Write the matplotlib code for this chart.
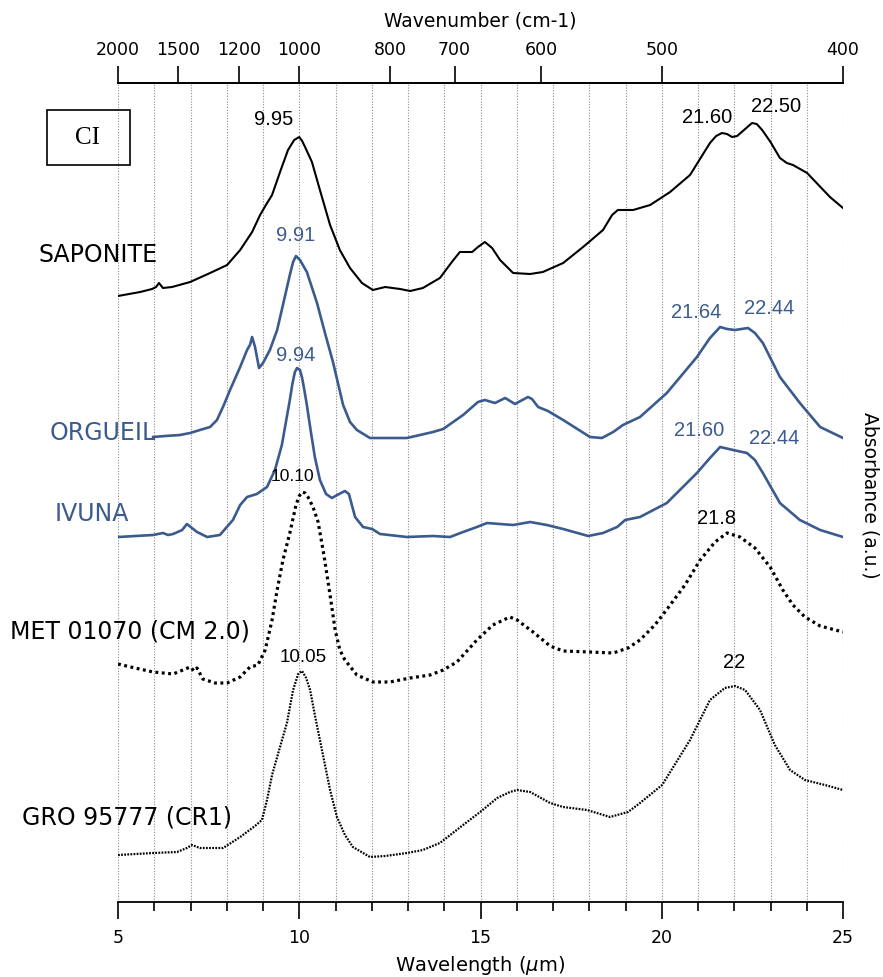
import matplotlib.pyplot as plt
from matplotlib.patches import Rectangle
from matplotlib.ticker import MultipleLocator, FixedLocator, NullFormatter

# spectra: wavelength (um) vs absorbance (a.u., stacked)
sap_x = [5.00, 5.61, 5.94, 6.05, 6.13, 6.24, 6.49, 6.99, 7.54, 8.01, 8.37, 8.70, 8.92, 9.08,
         9.25, 9.47, 9.69, 9.86, 10.00, 10.08, 10.16, 10.35, 10.57, 10.85, 11.12, 11.40, 11.73,
         12.03, 12.37, 12.78, 13.06, 13.41, 13.88, 14.21, 14.43, 14.77, 14.93, 15.12, 15.32,
         15.54, 15.90, 16.37, 16.72, 17.28, 17.83, 18.38, 18.63, 18.79, 19.21, 19.68, 20.23,
         20.78, 21.33, 21.50, 21.66, 21.80, 21.94, 22.08, 22.30, 22.49, 22.62, 22.77, 23.00,
         23.26, 23.45, 23.62, 24.01, 24.64, 25.00]
sap_y = [6.06, 6.10, 6.13, 6.15, 6.19, 6.14, 6.15, 6.20, 6.29, 6.37, 6.52, 6.70, 6.87, 6.97,
         7.07, 7.30, 7.52, 7.62, 7.65, 7.61, 7.55, 7.40, 7.12, 6.77, 6.52, 6.34, 6.19,
         6.12, 6.15, 6.13, 6.11, 6.14, 6.24, 6.40, 6.50, 6.50, 6.55, 6.60, 6.54,
         6.42, 6.29, 6.28, 6.30, 6.39, 6.55, 6.72, 6.87, 6.92, 6.92, 6.97, 7.10,
         7.27, 7.59, 7.66, 7.69, 7.68, 7.65, 7.66, 7.73, 7.79, 7.78, 7.72, 7.60,
         7.44, 7.39, 7.37, 7.29, 7.05, 6.94]

org_x = [5.97, 6.30, 6.71, 6.99, 7.26, 7.54, 7.73, 7.92, 8.09, 8.37, 8.56, 8.64, 8.70, 8.78,
         8.89, 9.00, 9.19, 9.39, 9.55, 9.74, 9.83, 9.91, 10.02, 10.21, 10.49, 10.71, 10.93, 11.21,
         11.40, 11.59, 11.95, 12.97, 13.69, 13.97, 14.52, 14.93, 15.12, 15.40, 15.68, 15.95, 16.31,
         16.42, 16.59, 16.86, 17.28, 18.02, 18.35, 18.66, 18.93, 19.40, 20.14, 20.97, 21.33,
         21.61, 21.80, 22.02, 22.38, 22.57, 22.79, 23.26, 23.81, 24.37, 25.00]
org_y = [4.65, 4.66, 4.67, 4.69, 4.72, 4.75, 4.82, 4.97, 5.12, 5.35, 5.52, 5.57, 5.65, 5.55,
         5.34, 5.39, 5.52, 5.72, 5.97, 6.27, 6.40, 6.46, 6.42, 6.30, 5.99, 5.69, 5.40, 4.97,
         4.80, 4.72, 4.64, 4.64, 4.70, 4.73, 4.87, 5.00, 5.02, 4.99, 5.04, 4.98, 5.05,
         5.03, 4.95, 4.91, 4.82, 4.65, 4.64, 4.70, 4.77, 4.85, 5.09, 5.45, 5.64,
         5.75, 5.73, 5.72, 5.74, 5.69, 5.59, 5.25, 4.99, 4.75, 4.64]

ivu_x = [5.00, 5.97, 6.24, 6.38, 6.52, 6.77, 6.90, 7.04, 7.18, 7.46, 7.81, 8.17, 8.37, 8.56,
         8.83, 9.11, 9.33, 9.52, 9.74, 9.81, 9.88, 9.94, 10.02, 10.08, 10.14, 10.21, 10.30, 10.43,
         10.57, 10.74, 10.90, 11.10, 11.26, 11.37, 11.54, 11.76, 12.01, 12.23, 12.97, 13.69,
         14.16, 14.52, 14.90, 15.18, 15.90, 16.37, 16.83, 17.28, 17.97, 18.38, 18.77, 18.99,
         19.40, 20.14, 20.97, 21.33, 21.61, 21.97, 22.35, 22.57, 22.79, 23.26, 23.81, 24.37, 25.00]
ivu_y = [3.65, 3.67, 3.69, 3.67, 3.68, 3.72, 3.78, 3.74, 3.70, 3.65, 3.67, 3.82, 3.97, 4.05,
         4.08, 4.15, 4.32, 4.57, 5.02, 5.18, 5.30, 5.34, 5.32, 5.24, 5.12, 4.97, 4.75, 4.45,
         4.22, 4.08, 4.04, 4.08, 4.11, 4.08, 3.85, 3.75, 3.73, 3.68, 3.65, 3.66,
         3.65, 3.70, 3.75, 3.79, 3.77, 3.80, 3.77, 3.73, 3.66, 3.69, 3.75, 3.82,
         3.85, 3.99, 4.29, 4.44, 4.55, 4.52, 4.49, 4.42, 4.29, 3.99, 3.82, 3.72, 3.65]

met_x = [5.00, 5.47, 5.97, 6.52, 6.79, 6.99, 7.10, 7.18, 7.34, 7.68, 8.01, 8.37, 8.64, 8.86,
         9.06, 9.25, 9.39, 9.55, 9.74, 9.91, 10.00, 10.08, 10.16, 10.24, 10.38, 10.52, 10.68,
         10.85, 10.99, 11.12, 11.26, 11.59, 12.03, 12.50, 13.06, 13.61, 13.97, 14.35, 14.90,
         15.34, 15.81, 16.01, 16.45, 16.92, 17.28, 18.02, 18.66, 19.07, 19.40, 19.81, 20.17,
         20.64, 21.06, 21.47, 21.80, 22.16, 22.57, 22.99, 23.34, 23.62, 23.95, 24.37, 25.00]
met_y = [2.38, 2.34, 2.30, 2.28, 2.32, 2.35, 2.31, 2.34, 2.23, 2.19, 2.19, 2.25, 2.35, 2.37,
         2.52, 2.82, 3.12, 3.42, 3.69, 3.97, 4.06, 4.10, 4.09, 4.05, 3.95, 3.80, 3.47,
         3.07, 2.72, 2.52, 2.42, 2.27, 2.20, 2.20, 2.24, 2.27, 2.32, 2.40, 2.62,
         2.77, 2.85, 2.82, 2.70, 2.56, 2.51, 2.50, 2.49, 2.54, 2.62, 2.77, 2.94,
         3.17, 3.42, 3.60, 3.69, 3.65, 3.54, 3.35, 3.12, 2.97, 2.85, 2.76, 2.70]

gro_x = [5.00, 5.97, 6.63, 6.90, 7.04, 7.26, 7.90, 8.37, 8.78, 8.97, 9.11, 9.25, 9.39, 9.66,
         9.83, 9.97, 10.08, 10.19, 10.30, 10.43, 10.57, 10.85, 11.04, 11.26, 11.48, 11.95,
         12.37, 12.97, 13.41, 13.88, 14.52, 14.99, 15.46, 15.81, 16.01, 16.37, 16.92, 17.28,
         17.94, 18.57, 19.07, 19.40, 20.01, 20.78, 21.33, 21.74, 22.02, 22.30, 22.71, 23.12,
         23.54, 23.95, 24.50, 25.00]
gro_y = [0.47, 0.49, 0.50, 0.54, 0.57, 0.54, 0.54, 0.65, 0.76, 0.82, 1.02, 1.27, 1.45, 1.79,
         2.12, 2.28, 2.31, 2.24, 2.12, 1.87, 1.62, 1.12, 0.85, 0.67, 0.55, 0.45,
         0.46, 0.49, 0.52, 0.59, 0.77, 0.90, 1.04, 1.10, 1.12, 1.10, 0.99, 0.95,
         0.92, 0.85, 0.90, 0.99, 1.17, 1.62, 2.02, 2.14, 2.16, 2.12, 1.92, 1.57,
         1.32, 1.22, 1.17, 1.12]

# peak labels: (text, x um, y a.u., colour key, size)
peak_labels = [
    ('9.95', 9.28, 7.82, 'k', 14.5), ('21.60', 21.25, 7.84, 'k', 14.5), ('22.50', 23.15, 7.95, 'k', 14.5),
    ('9.91', 9.91, 6.66, 'b', 14.5), ('21.64', 20.94, 5.89, 'b', 14.5), ('22.44', 22.96, 5.93, 'b', 14.5),
    ('9.94', 9.91, 5.46, 'b', 14.5), ('21.60', 21.03, 4.72, 'b', 14.5), ('22.44', 23.10, 4.63, 'b', 14.5),
    ('10.10', 9.80, 4.25, 'k', 12.5), ('21.8', 21.52, 3.84, 'k', 14.5),
    ('10.05', 10.10, 2.45, 'k', 13.5), ('22', 22.00, 2.40, 'k', 14.5),
]

wavenumbers = [2000, 1500, 1200, 1000, 800, 700, 600, 500, 400]

BLUE = '#3b5b8f'
W, H = 883, 977

fig = plt.figure(figsize=(W / 100, H / 100), dpi=100)
ax = fig.add_axes([118 / W, 1 - 902 / H, (843 - 118) / W, (902 - 83) / H])

ax.plot(sap_x, sap_y, color='black', lw=1.5, solid_joinstyle='round')
ax.plot(org_x, org_y, color=BLUE, lw=1.9, solid_joinstyle='round')
ax.plot(ivu_x, ivu_y, color=BLUE, lw=1.9, solid_joinstyle='round')
ax.plot(met_x, met_y, color='black', lw=2.3, linestyle=(0, (0.9, 1.1)))
ax.plot(gro_x, gro_y, color='black', lw=1.6, linestyle=(0, (0.8, 0.6)))

ax.set_xlim(5, 25)
ax.set_ylim(0, 8.19)

for s in ['left', 'right']:
    ax.spines[s].set_visible(False)
for s in ['top', 'bottom']:
    ax.spines[s].set_linewidth(1.3)
ax.set_yticks([])

ax.xaxis.set_major_locator(MultipleLocator(5))
ax.xaxis.set_minor_locator(MultipleLocator(1))
ax.tick_params(axis='x', which='major', direction='out', length=12.5, width=1.2,
               labelsize=12.5, pad=7)
ax.tick_params(axis='x', which='minor', direction='out', length=6.5, width=1.2)
ax.grid(True, axis='x', which='both', linestyle=(0, (1, 1.5)), color='#8c8c8c', lw=0.8)
ax.set_axisbelow(True)
ax.set_xlabel('Wavelength ($\\mu$m)', fontsize=14, labelpad=5)

top = ax.twiny()
top.set_xlim(ax.get_xlim())
top.xaxis.set_major_locator(FixedLocator([1e4 / w for w in wavenumbers]))
top.xaxis.set_minor_formatter(NullFormatter())
top.set_xticklabels([str(w) for w in wavenumbers])
top.tick_params(axis='x', which='major', direction='out', length=12.5, width=1.2,
                labelsize=12.5, pad=5)
for s in ['left', 'right', 'bottom']:
    top.spines[s].set_visible(False)
top.spines['top'].set_linewidth(1.3)
top.set_xlabel('Wavenumber (cm-1)', fontsize=13.5, labelpad=10)

for txt, x, y, c, fs in peak_labels:
    ax.text(x, y, txt, ha='center', va='center', fontsize=fs,
            family='Liberation Sans', color=BLUE if c == 'b' else 'black')

names = [('SAPONITE', 38, 255, 'black'), ('ORGUEIL', 50, 433, BLUE), ('IVUNA', 55, 514, BLUE),
         ('MET 01070 (CM 2.0)', 10, 632, 'black'), ('GRO 95777 (CR1)', 22, 818, 'black')]
for txt, px, py, c in names:
    fig.text(px / W, 1 - py / H, txt, ha='left', va='center', fontsize=17, color=c)

fig.add_artist(Rectangle((47 / W, 1 - 165 / H), 83 / W, 55 / H, transform=fig.transFigure,
                         fill=False, ec='black', lw=1.2))
fig.text(88 / W, 1 - 138 / H, 'CI', ha='center', va='center', fontsize=18,
         family='Liberation Serif')

fig.text(870 / W, 1 - 495 / H, 'Absorbance (a.u.)', rotation=270, ha='center', va='center',
         fontsize=13.5)

fig.savefig('out.png', dpi=100)
